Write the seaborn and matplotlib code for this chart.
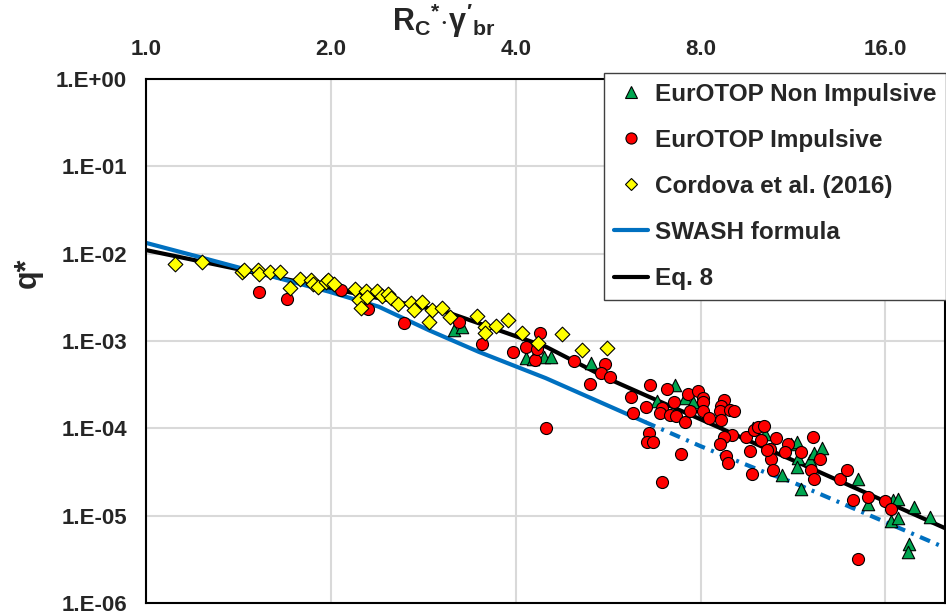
import numpy as np
import pandas as pd
import matplotlib
matplotlib.use("Agg")
import matplotlib.pyplot as plt
import seaborn as sns
from matplotlib.lines import Line2D
from matplotlib.ticker import FixedLocator, FixedFormatter, LogLocator, NullFormatter, NullLocator

# ---- data ----
# EurOTOP non impulsive (green triangles)
nonimp_x = [3.17, 3.27, 4.15, 4.26, 4.45, 4.56, 5.30, 7.28, 6.79, 7.54, 7.77, 9.73, 10.17,
            11.23, 11.50, 11.51, 11.47, 12.06, 12.26, 12.62, 10.86, 11.66, 14.46, 15.01,
            16.45, 16.80, 17.84, 18.92, 16.31, 16.80, 17.50, 17.38]
nonimp_q = [1.33e-3, 1.46e-3, 6.4e-4, 6.2e-4, 6.6e-4, 6.5e-4, 5.6e-4, 3.1e-4, 2.05e-4, 2.23e-4,
            2.0e-4, 1.0e-4, 8.6e-5, 6.7e-5, 7.0e-5, 4.6e-5, 3.6e-5, 4.3e-5, 5.2e-5, 6.0e-5,
            2.9e-5, 2.0e-5, 2.66e-5, 1.35e-5, 1.5e-5, 1.55e-5, 1.25e-5, 9.7e-6, 8.7e-6, 9.3e-6,
            4.8e-6, 3.85e-6]

# EurOTOP impulsive (red circles)
imp_x = [1.529, 1.70, 2.077, 2.30, 2.63, 3.235, 3.52, 3.96, 4.16, 4.38, 4.30, 4.34, 4.476,
         4.98, 5.60, 5.50, 5.69, 5.28, 6.17, 6.20, 6.53, 6.61, 6.59, 6.55, 6.70, 7.06, 7.23,
         6.93, 6.86, 7.14, 7.30, 7.54, 7.63, 7.93, 8.06, 8.07, 8.06, 7.68, 8.25, 8.72, 8.65,
         8.59, 8.94, 9.07, 8.65, 7.44, 6.93, 8.99, 8.72, 8.59, 8.80, 8.86, 9.71, 9.47, 9.79,
         9.94, 10.13, 10.02, 9.63, 10.39, 10.60, 10.42, 10.50, 11.10, 10.97, 10.26, 11.66,
         12.19, 12.53, 12.11, 12.23, 13.50, 13.84, 14.15, 15.01, 16.00, 16.31, 14.42]
imp_q = [3.6e-3, 3.0e-3, 3.83e-3, 2.32e-3, 1.61e-3, 1.63e-3, 9.2e-4, 7.4e-4, 8.6e-4, 1.22e-3,
         6.0e-4, 8.2e-4, 1.02e-4, 5.9e-4, 5.4e-4, 4.25e-4, 3.83e-4, 3.2e-4, 2.26e-4, 1.48e-4,
         1.77e-4, 3.13e-4, 8.9e-5, 7.0e-5, 7.0e-5, 2.83e-4, 2.0e-4, 1.71e-4, 1.48e-4, 1.44e-4,
         1.38e-4, 1.19e-4, 2.45e-4, 2.67e-4, 2.23e-4, 2.01e-4, 1.59e-4, 1.56e-4, 1.33e-4,
         2.1e-4, 1.8e-4, 1.56e-4, 1.62e-4, 1.58e-4, 1.24e-4, 5.06e-5, 2.4e-5, 8.5e-5, 7.9e-5,
         6.7e-5, 4.8e-5, 4.0e-5, 3.0e-5, 8.0e-5, 9.7e-5, 1.03e-4, 1.06e-4, 7.3e-5, 5.5e-5,
         5.8e-5, 7.8e-5, 4.4e-5, 3.3e-5, 6.6e-5, 5.4e-5, 5.6e-5, 5.4e-5, 8.0e-5, 4.4e-5,
         3.3e-5, 2.66e-5, 2.6e-5, 3.3e-5, 1.53e-5, 1.64e-5, 1.46e-5, 1.18e-5, 3.23e-6]

# Cordova et al. (2016) (yellow diamonds)
cordova_x = [1.116, 1.232, 1.436, 1.446, 1.52, 1.525, 1.593, 1.654, 1.715, 1.781, 1.856, 1.87,
             1.903, 1.963, 1.98, 2.025, 2.19, 2.28, 2.224, 2.24, 2.294, 2.382, 2.427, 2.48,
             2.51, 2.574, 2.706, 2.82, 2.73, 2.92, 2.89, 3.03, 3.13, 3.46, 3.57, 3.71, 3.88,
             4.09, 3.57, 4.35, 4.75, 5.13, 5.63]
cordova_q = [7.7e-3, 7.95e-3, 6.2e-3, 6.5e-3, 6.5e-3, 5.9e-3, 6.2e-3, 6.2e-3, 4.0e-3, 5.07e-3,
             4.98e-3, 4.5e-3, 4.17e-3, 4.76e-3, 4.98e-3, 4.5e-3, 3.9e-3, 3.73e-3, 2.94e-3,
             2.36e-3, 3.2e-3, 3.73e-3, 3.27e-3, 3.45e-3, 3.08e-3, 2.64e-3, 2.72e-3, 2.8e-3,
             2.26e-3, 2.26e-3, 1.66e-3, 2.36e-3, 1.86e-3, 1.94e-3, 1.45e-3, 1.5e-3, 1.72e-3,
             1.22e-3, 1.22e-3, 9.4e-4, 1.19e-3, 7.9e-4, 8.4e-4]

# SWASH formula (solid inside the data range, dash-dot beyond)
swash_x = [1.0, 1.206, 1.99, 2.394, 2.888, 3.482, 4.476, 6.5]
swash_q = [1.33e-2, 9.39e-3, 3.66e-3, 2.47e-3, 1.33e-3, 7.52e-4, 3.76e-4, 1.18e-4]
swash_ext_x = [6.5, 8.0, 10.17, 11.29, 20.0]
swash_ext_q = [1.18e-4, 6.25e-5, 3.15e-5, 2.42e-5, 4.3e-6]

# Eq. 8
eq8_x = [1.0, 2.0, 3.08, 4.48, 5.63, 6.61, 8.0, 10.64, 11.6, 20.0]
eq8_q = [1.10e-2, 4.0e-3, 2.16e-3, 8.6e-4, 3.76e-4, 2.28e-4, 1.27e-4, 5.2e-5, 3.99e-5, 7.2e-6]

x_ticks = [1, 2, 4, 8, 16]
x_labels = ["1.0", "2.0", "4.0", "8.0", "16.0"]
y_ticks = [1e-6, 1e-5, 1e-4, 1e-3, 1e-2, 1e-1, 1e0]
y_labels = ["1.E-06", "1.E-05", "1.E-04", "1.E-03", "1.E-02", "1.E-01", "1.E+00"]

green = "#00A650"
red = "#FF0000"
yellow = "#FFFF00"
blue = "#0070C0"

sns.set_style("white")
plt.rcParams['font.family'] = ['Liberation Sans', 'DejaVu Sans']
plt.rcParams['font.weight'] = 'bold'
plt.rcParams['mathtext.fontset'] = 'custom'
plt.rcParams['mathtext.rm'] = 'Liberation Sans:bold'
plt.rcParams['mathtext.it'] = 'Liberation Sans:bold'
plt.rcParams['mathtext.bf'] = 'Liberation Sans:bold'

fig = plt.figure(figsize=(9.46, 6.15), dpi=100)
ax = fig.add_axes([0.1543, 0.0195, 0.8446, 0.852])
ax.set_xscale('log', base=2)
ax.set_yscale('log')

# lines
sns.lineplot(x=eq8_x, y=eq8_q, ax=ax, color='black', lw=3, sort=False, zorder=2)
sns.lineplot(x=swash_x, y=swash_q, ax=ax, color=blue, lw=3, sort=False, zorder=2)
sns.lineplot(x=swash_ext_x, y=swash_ext_q, ax=ax, color=blue, lw=3, sort=False, zorder=2)
ax.lines[-1].set_dashes([2.6, 1.6, 0.7, 1.6])

# points
sns.scatterplot(x=nonimp_x, y=nonimp_q, ax=ax, marker='^', s=80, color=green,
                edgecolor='black', linewidth=0.8, zorder=4, legend=False)
sns.scatterplot(x=imp_x, y=imp_q, ax=ax, marker='o', s=75, color=red,
                edgecolor='black', linewidth=0.8, zorder=5, legend=False)
sns.scatterplot(x=cordova_x, y=cordova_q, ax=ax, marker='D', s=56, color=yellow,
                edgecolor='black', linewidth=0.8, zorder=6, legend=False)

ax.set_xlim(1, 20)
ax.set_ylim(1e-6, 1)

ax.xaxis.tick_top()
ax.xaxis.set_major_locator(FixedLocator(x_ticks))
ax.xaxis.set_major_formatter(FixedFormatter(x_labels))
ax.xaxis.set_minor_locator(NullLocator())
ax.yaxis.set_major_locator(FixedLocator(y_ticks))
ax.yaxis.set_major_formatter(FixedFormatter(y_labels))
ax.yaxis.set_minor_locator(LogLocator(base=10, subs=np.arange(2, 10), numticks=20))
ax.yaxis.set_minor_formatter(NullFormatter())

ax.tick_params(axis='both', which='major', length=0, pad=13.5, labelsize=16)
ax.tick_params(axis='y', which='minor', direction='in', length=5, width=1, color='#555555')
for lab in ax.get_xticklabels() + ax.get_yticklabels():
    lab.set_fontweight('bold')

ax.grid(True, which='major', color='#D9D9D9', lw=1.5)
ax.set_axisbelow(True)
for sp in ax.spines.values():
    sp.set_visible(True)
    sp.set_color('black')
    sp.set_linewidth(1.5)

ax.set_xlabel('')
ax.set_ylabel('')
fig.text(444 / 946, 1 - 21 / 615, r"$R_C{}^{*}{\cdot}\gamma'_{br}$", fontsize=22,
         ha='center', va='center')
fig.text(28 / 946, 1 - 273 / 615, "q*", rotation=90, fontsize=22, fontweight='bold',
         ha='center', va='center')

handles = [
    Line2D([], [], marker='^', linestyle='none', markersize=8, markerfacecolor=green,
           markeredgecolor='black', markeredgewidth=0.8),
    Line2D([], [], marker='o', linestyle='none', markersize=8, markerfacecolor=red,
           markeredgecolor='black', markeredgewidth=0.8),
    Line2D([], [], marker='D', linestyle='none', markersize=6.6, markerfacecolor=yellow,
           markeredgecolor='black', markeredgewidth=0.8),
    Line2D([], [], color=blue, lw=3),
    Line2D([], [], color='black', lw=3),
]
labels = ["EurOTOP Non Impulsive", "EurOTOP Impulsive", "Cordova et al. (2016)",
          "SWASH formula", "Eq. 8"]
leg = fig.legend(handles, labels, loc='upper left', bbox_to_anchor=(604 / 946, 1 - 73 / 615),
                 bbox_transform=fig.transFigure, borderaxespad=0, fancybox=False,
                 framealpha=1, edgecolor='#404040', borderpad=0.4, labelspacing=0.95,
                 handlelength=1.4, handletextpad=0.3, prop={'size': 17.5, 'weight': 'bold'})
leg.get_frame().set_linewidth(1.0)
leg.set_zorder(10)

fig.savefig("out.png", dpi=100)
